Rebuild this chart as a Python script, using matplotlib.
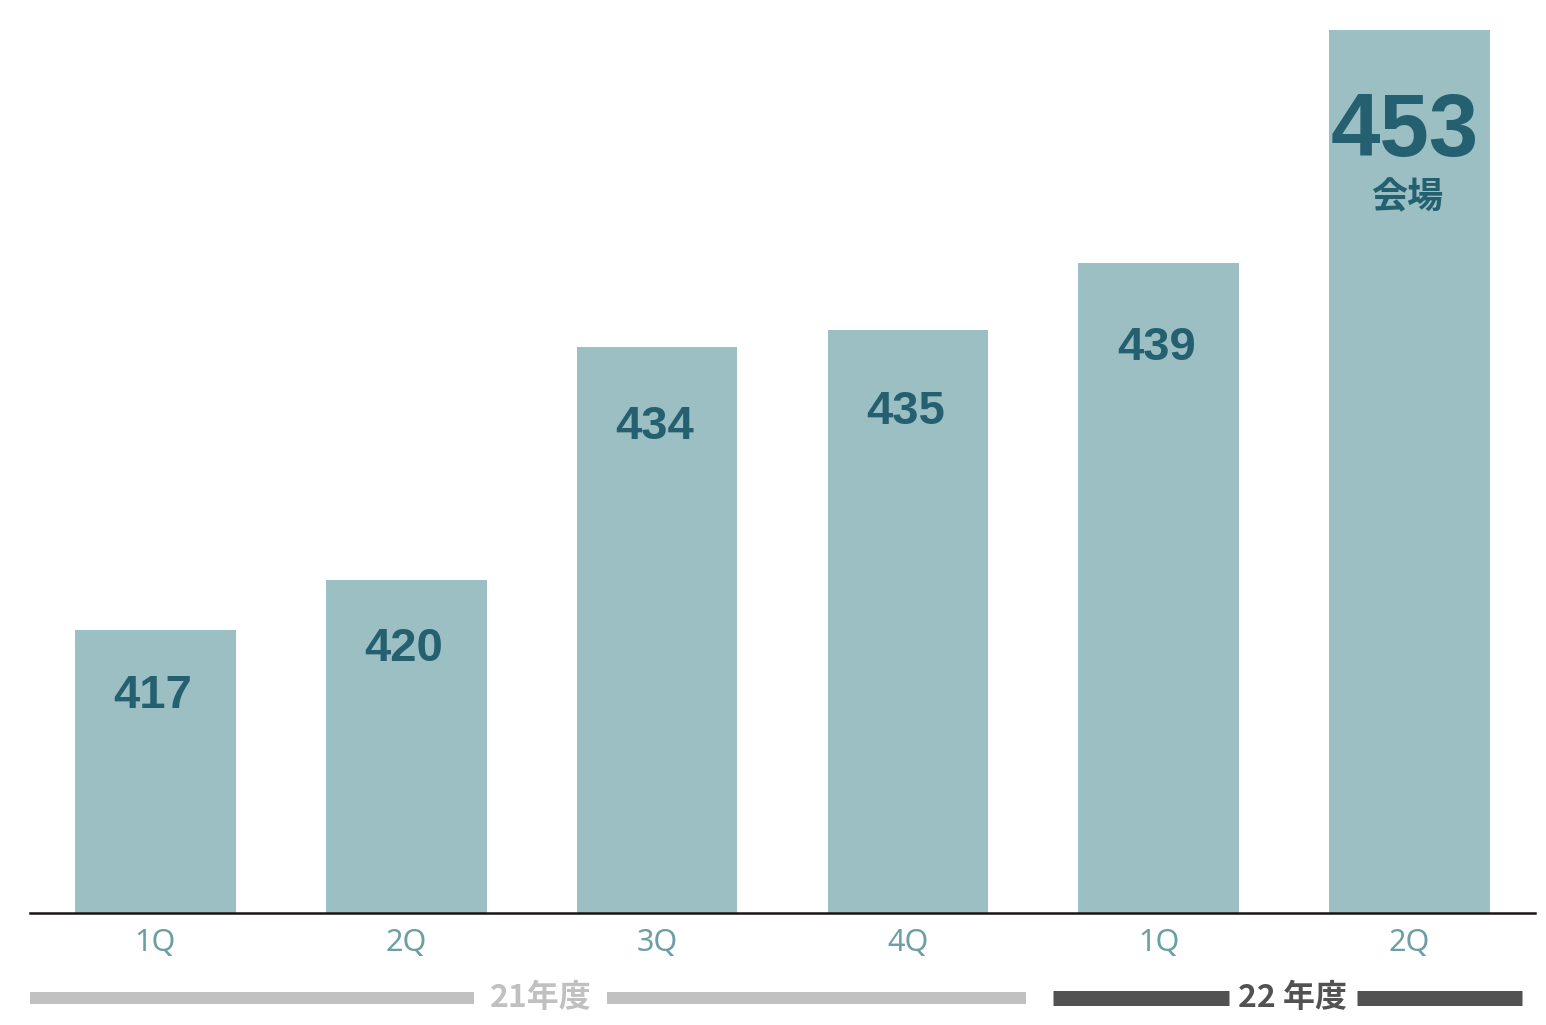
import matplotlib
matplotlib.use("Agg")
import matplotlib.pyplot as plt
from matplotlib import transforms

# data
quarters = ["1Q", "2Q", "3Q", "4Q", "1Q", "2Q"]
venues = [417, 420, 434, 435, 439, 453]
years = ["21年度", "22 年度"]
year_start = [0, 4]   # first quarter index of each fiscal year
year_end = [3, 5]     # last quarter index
unit = "会場"

bar_color = "#9bbfc3"
num_color = "#24606f"
tick_color = "#6c9fa4"
year_colors = ["#c0c0c0", "#525252"]
cjk = ["Noto Sans CJK JP", "DejaVu Sans"]

fig = plt.figure(figsize=(15.46, 10.25), dpi=100)
ax = fig.add_axes([0.0194, 0.1093, 0.9735, 0.8907])

x = list(range(len(venues)))
ax.bar(x, venues, width=0.64, color=bar_color, bottom=0)
ax.set_xlim(-0.5, 5.5)
ax.set_ylim(400, 454.8)

# value labels, sitting a little lower inside taller bars
for i, v in enumerate(venues):
    off = 3.8 + (v - venues[0]) * 0.05
    if i == len(venues) - 1:
        ax.text(i - 0.02, v - off - 0.6, str(v), ha="center", va="center", fontsize=64,
                fontweight="bold", family="Liberation Sans", color=num_color)
        ax.text(i - 0.01, v - 10.1, unit, ha="center", va="center", fontsize=26,
                fontweight="bold", family=cjk, color=num_color)
    else:
        ax.text(i - 0.01, v - off - 0.2, str(v), ha="center", va="center", fontsize=34,
                fontweight="bold", family="Liberation Sans", color=num_color)

for s in ["top", "left", "right"]:
    ax.spines[s].set_visible(False)
ax.spines["bottom"].set_linewidth(1.8)
ax.spines["bottom"].set_color("#1a1414")
ax.set_yticks([])
ax.set_xticks(x)
ax.set_xticklabels(quarters, fontsize=22, color=tick_color, family="Noto Sans")
ax.tick_params(axis="x", length=0, pad=11)

# fiscal year brackets under the axis
trans = transforms.blended_transform_factory(ax.transData, ax.transAxes)
gaps = [(0.0, 0.03), (0.08, 0.05)]
lws = [8.6, 10.8]
halves = [0.265, 0.255]
for k, name in enumerate(years):
    x0 = year_start[k] - 0.5 + gaps[k][0]
    x1 = year_end[k] + 0.5 - gaps[k][1]
    mid = (year_start[k] + year_end[k]) / 2 + 0.035
    ax.plot([x0, mid - halves[k]], [-0.093, -0.093], transform=trans, color=year_colors[k],
            lw=lws[k], solid_capstyle="butt", clip_on=False)
    ax.plot([mid + halves[k], x1], [-0.093, -0.093], transform=trans, color=year_colors[k],
            lw=lws[k], solid_capstyle="butt", clip_on=False)
    ax.text(mid, -0.093, name, transform=trans, ha="center", va="center",
            fontsize=23, fontweight="bold", family=cjk, color=year_colors[k])

fig.savefig("out.png", dpi=100, facecolor="white")
